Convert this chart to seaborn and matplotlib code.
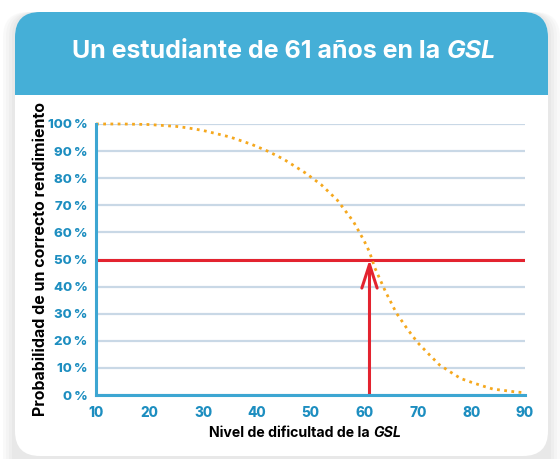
import matplotlib
matplotlib.use('Agg')
import matplotlib.pyplot as plt
import seaborn as sns
import pandas as pd
from matplotlib.patches import FancyBboxPatch, Rectangle
from matplotlib.ticker import MultipleLocator, FuncFormatter

# valores
nivel = [10, 15, 20, 25, 27, 30, 35, 39, 42, 45, 49, 52, 55, 58, 60, 61, 62, 64,
         66, 68, 70, 72, 74, 76, 78, 80, 82, 84, 86, 88, 90]
probabilidad = [100, 100, 99.8, 99.1, 98.6, 97.6, 95.2, 92.5, 90, 87, 82, 77.6, 71.9,
                64, 56.9, 52.8, 46.9, 38.1, 30.3, 24.5, 19.3, 15.2, 11.2, 8.6, 6.1,
                4.7, 3.4, 2.2, 1.7, 1.2, 0.8]
edad_estudiante = 61
umbral = 50
titulo = 'Un estudiante de 61 años en la '
titulo_it = 'GSL'
xlabel = 'Nivel de dificultad de la '
ylabel = 'Probabilidad de un correcto rendimiento'

blue_head = '#45AFD7'
blue_axis = '#3DA6D2'
blue_text = '#1D8EC0'
grid_col = '#C9D8E6'
orange = '#F5A81E'
red = '#E3232F'

sns.set_style('white')
plt.rcParams['font.family'] = ['Inter', 'DejaVu Sans']

W, H = 560, 459
fig = plt.figure(figsize=(W / 100, H / 100), dpi=100)
fig.patch.set_facecolor('white')

# fondo y tarjeta
bg = fig.add_axes([0, 0, 1, 1], zorder=0)
bg.set_xlim(0, W)
bg.set_ylim(H, 0)
bg.axis('off')
for i, a in enumerate([0.05, 0.05, 0.06, 0.07]):
    g = 12 - i * 3
    bg.add_patch(FancyBboxPatch((15 - g + 25, 12 + 25), 533 + 2 * g - 50, 460 - 25,
                                boxstyle='round,pad=25', fc='#9a9a9a', ec='none', alpha=a))
bg.add_patch(FancyBboxPatch((15 + 25, 12 + 25), 533 - 50, 444 - 50,
                            boxstyle='round,pad=25', fc='white', ec='none'))
bg.add_patch(FancyBboxPatch((15 + 25, 12 + 25), 533 - 50, 110 - 50,
                            boxstyle='round,pad=25', fc=blue_head, ec='none'))
bg.add_patch(Rectangle((15, 95), 533, 100, fc='white', ec='none'))

ax = fig.add_axes([96 / W, 1 - 395 / H, 429 / W, 271 / H], zorder=1)
ax.patch.set_alpha(0)

ax.axhline(umbral, color=red, lw=2.2, zorder=3)
ax.annotate('', xy=(edad_estudiante, umbral), xytext=(edad_estudiante, 0),
            arrowprops=dict(arrowstyle='->,head_length=1.7,head_width=0.55',
                            color=red, lw=2.2, shrinkA=0, shrinkB=0),
            zorder=4)

df = pd.DataFrame({'nivel': nivel, 'prob': probabilidad})
sns.lineplot(data=df, x='nivel', y='prob', ax=ax, color=orange, lw=2.0,
             linestyle=(0, (1, 1.6)), clip_on=False, zorder=5)

ax.set_xlim(10, 90)
ax.set_ylim(0, 100)
ax.yaxis.set_major_locator(MultipleLocator(10))
ax.xaxis.set_major_locator(MultipleLocator(10))
ax.xaxis.set_minor_locator(MultipleLocator(1))
ax.yaxis.set_major_formatter(FuncFormatter(lambda v, p: f'{v:.0f}\u2009%'))
ax.grid(axis='y', color=grid_col, lw=1.6, zorder=0)
ax.set_axisbelow(True)

for s in ['top', 'right']:
    ax.spines[s].set_visible(False)
for s in ['left', 'bottom']:
    ax.spines[s].set_color(blue_axis)
    ax.spines[s].set_linewidth(2.2)
    ax.spines[s].set_zorder(6)

ax.tick_params(axis='x', which='major', length=5, width=1.3, color=blue_axis,
               labelsize=9.8, labelcolor=blue_text, pad=3)
ax.tick_params(axis='x', which='minor', length=3, width=1.0, color=blue_axis)
ax.tick_params(axis='y', which='major', length=4, width=1.3, color=blue_axis,
               labelsize=9.5, labelcolor=blue_text, pad=2)
for lab in ax.get_xticklabels() + ax.get_yticklabels():
    lab.set_fontweight('heavy')

ax.set_xlabel('')
ax.set_ylabel(ylabel, fontsize=11.5, fontweight='bold', color='black')
ax.yaxis.set_label_coords(-0.112, 0.5)

fig.canvas.draw()
r = fig.canvas.get_renderer()


def texto_mixto(x, y, normal, italic, size, color):
    t1 = fig.text(0, 0, normal, fontsize=size, fontweight='bold', color=color)
    t2 = fig.text(0, 0, italic, fontsize=size, fontweight='bold', style='italic',
                  color=color)
    w1 = t1.get_window_extent(r).width
    w2 = t2.get_window_extent(r).width
    x0 = x - (w1 + w2) / 2
    t1.set_position((x0 / W, 1 - y / H))
    t2.set_position(((x0 + w1) / W, 1 - y / H))
    t1.set_va('center')
    t2.set_va('center')


texto_mixto(284, 52, titulo, titulo_it, 18, 'white')
texto_mixto(305, 433, xlabel, titulo_it, 10.2, 'black')

fig.savefig('out.png', dpi=100)
